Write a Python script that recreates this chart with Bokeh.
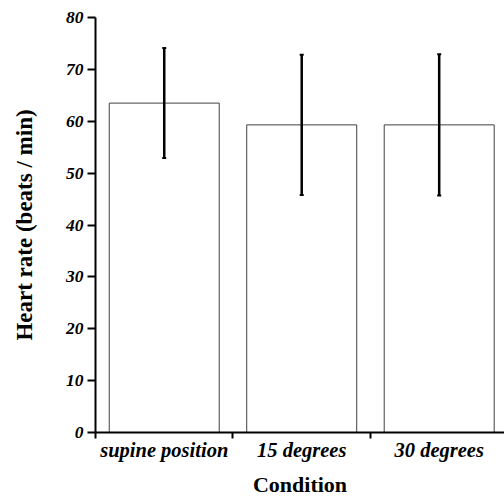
from bokeh.plotting import figure
from bokeh.models import ColumnDataSource, Range1d, FixedTicker, Whisker, TeeHead
from bokeh.embed import file_html
from bokeh.resources import INLINE

categories = ["supine position", "15 degrees", "30 degrees"]
means = [63.5, 59.3, 59.3]
sds = [10.6, 13.5, 13.6]
y_ticks = [0, 10, 20, 30, 40, 50, 60, 70, 80]

xs = [i + 0.5 for i in range(len(categories))]
src = ColumnDataSource(data=dict(
    x=xs, top=means,
    upper=[m + s for m, s in zip(means, sds)],
    lower=[m - s for m, s in zip(means, sds)],
))

p = figure(width=504, height=499, output_backend="svg", toolbar_location=None,
           x_range=Range1d(0, 2.975), y_range=Range1d(0, 80),
           min_border_left=95, min_border_right=0, min_border_top=17, min_border_bottom=67)
p.outline_line_color = None
p.xgrid.visible = False
p.ygrid.visible = False
p.background_fill_color = "white"
p.border_fill_color = "white"

p.vbar(x="x", top="top", width=0.8, bottom=0, source=src,
       fill_color="white", line_color="#404040", line_width=1)

w = Whisker(base="x", upper="upper", lower="lower", source=src,
            line_color="black", line_width=2.5, level="overlay",
            upper_head=TeeHead(size=4, line_width=2, line_color="black"),
            lower_head=TeeHead(size=4, line_width=2, line_color="black"))
p.add_layout(w)

font = "Liberation Serif"
xa = p.xaxis[0]
xa.ticker = FixedTicker(ticks=xs, minor_ticks=[0, 1, 2, 3])
xa.major_label_overrides = {x: c for x, c in zip(xs, categories)}
xa.major_tick_out = 0
xa.major_tick_in = 0
xa.minor_tick_out = 6
xa.minor_tick_in = 0
xa.minor_tick_line_width = 2
xa.axis_line_width = 2
xa.major_label_text_font = font
xa.major_label_text_font_style = "bold italic"
xa.major_label_text_font_size = "20.5px"
xa.major_label_text_color = "black"
xa.major_label_standoff = 0
xa.axis_label = "Condition"
xa.axis_label_text_font = font
xa.axis_label_text_font_style = "bold"
xa.axis_label_text_font_size = "22px"
xa.axis_label_text_color = "black"
xa.axis_label_standoff = 8

ya = p.yaxis[0]
ya.ticker = FixedTicker(ticks=y_ticks, minor_ticks=[])
ya.major_tick_out = 8
ya.major_tick_in = 0
ya.major_tick_line_width = 2
ya.axis_line_width = 2
ya.major_label_text_font = font
ya.major_label_text_font_style = "bold italic"
ya.major_label_text_font_size = "17.5px"
ya.major_label_text_color = "black"
ya.major_label_standoff = 4
ya.axis_label = "Heart rate (beats / min)"
ya.axis_label_text_font = font
ya.axis_label_text_font_style = "bold"
ya.axis_label_text_font_size = "23px"
ya.axis_label_text_color = "black"
ya.axis_label_standoff = 26

open("out.html", "w").write(file_html(p, INLINE))
